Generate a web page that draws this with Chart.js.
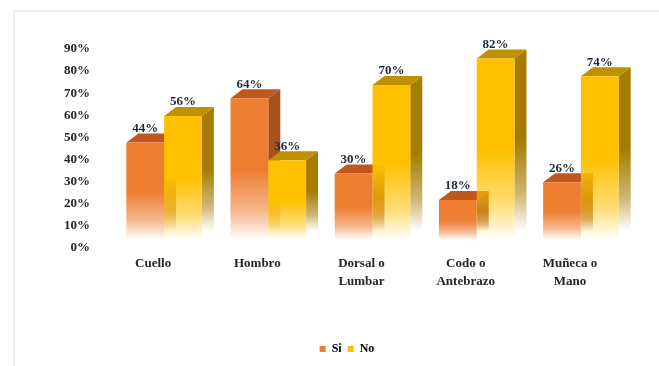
<!DOCTYPE html>
<html>
<head>
<meta charset="utf-8">
<style>
    html, body { margin: 0; padding: 0; background: #ffffff; }
    #wrap { position: relative; width: 659px; height: 366px; overflow: hidden; }
    #frame { position: absolute; left: 13px; top: 10px; width: 800px; height: 500px; border: 2px solid #eeeeee; box-sizing: border-box; }
    canvas { position: absolute; left: 0; top: 0; }
</style>
<script src="https://cdn.jsdelivr.net/npm/chart.js@4/dist/chart.umd.min.js"></script>
</head>
<body>
<div id="wrap">
    <div id="frame"></div>
    <canvas id="chart" width="659" height="366"></canvas>
</div>
<script>
const categories = ['Cuello', 'Hombro', ['Dorsal o', 'Lumbar'], ['Codo o', 'Antebrazo'], ['Muñeca o', 'Mano']];
const siValues = [44, 64, 30, 18, 26];
const noValues = [56, 36, 70, 82, 74];
const tickStep = 10;
const tickMax = 90;

const FONT = '"Liberation Serif", serif';
const DEPTH_X = 12;
const DEPTH_Y = 9;

// Colour sets for each series: front, top face, side face (as r,g,b)
const orange = { front: '237,125,49', top: '192,88,30', side: '165,82,31' };
const yellow = { front: '255,192,0', top: '191,144,0', side: '166,124,0' };

// Front and side faces fade out toward the floor of the chart
function fade(ctx, top, bottom, rgb) {
    const g = ctx.createLinearGradient(0, top, 0, bottom);
    g.addColorStop(0, `rgba(${rgb},1)`);
    g.addColorStop(0.5, `rgba(${rgb},1)`);
    g.addColorStop(0.8, `rgba(${rgb},0.55)`);
    g.addColorStop(1, `rgba(${rgb},0)`);
    return g;
}

function frontFill(rgb) {
    return function (c) {
        const scale = c.chart.scales.yBars;
        if (!scale || !c.parsed) return `rgb(${rgb})`;
        return fade(c.chart.ctx, scale.getPixelForValue(c.parsed.y), scale.getPixelForValue(0), rgb);
    };
}

function drawFaces(chart, meta, colors) {
    const ctx = chart.ctx;
    meta.data.forEach(function (bar) {
        const x0 = bar.x - bar.width / 2;
        const x1 = bar.x + bar.width / 2;
        ctx.save();
        ctx.fillStyle = fade(ctx, bar.y - DEPTH_Y, bar.base - DEPTH_Y, colors.side);
        ctx.beginPath();
        ctx.moveTo(x1, bar.y);
        ctx.lineTo(x1 + DEPTH_X, bar.y - DEPTH_Y);
        ctx.lineTo(x1 + DEPTH_X, bar.base - DEPTH_Y);
        ctx.lineTo(x1, bar.base);
        ctx.closePath();
        ctx.fill();
        ctx.fillStyle = `rgb(${colors.top})`;
        ctx.beginPath();
        ctx.moveTo(x0, bar.y);
        ctx.lineTo(x0 + DEPTH_X, bar.y - DEPTH_Y);
        ctx.lineTo(x1 + DEPTH_X, bar.y - DEPTH_Y);
        ctx.lineTo(x1, bar.y);
        ctx.closePath();
        ctx.fill();
        ctx.restore();
    });
}

// Extruded side and top faces. Chart.js paints the last dataset first, but
// No has to sit over Si here, so Si is painted ahead of No and then skipped.
const extrude = {
    id: 'extrude',
    beforeDatasetDraw(chart, args) {
        if (args.index === 0) return false;
        const si = chart.getDatasetMeta(0);
        drawFaces(chart, si, orange);
        si.controller.draw();
        drawFaces(chart, args.meta, yellow);
    }
};

// Percent labels above each bar
const valueLabels = {
    id: 'valueLabels',
    afterDatasetsDraw(chart) {
        const ctx = chart.ctx;
        ctx.save();
        ctx.font = 'bold 13px ' + FONT;
        ctx.fillStyle = '#1f2a38';
        ctx.textAlign = 'center';
        ctx.textBaseline = 'middle';
        chart.data.datasets.forEach(function (ds, i) {
            chart.getDatasetMeta(i).data.forEach(function (bar, j) {
                ctx.fillText(ds.data[j] + '%', bar.x, bar.y - 14);
            });
        });
        ctx.restore();
    }
};

new Chart(document.getElementById('chart'), {
    type: 'bar',
    data: {
        labels: categories,
        datasets: [
            { label: 'Si', data: siValues, faces: orange, backgroundColor: frontFill(orange.front), yAxisID: 'yBars', base: 0 },
            { label: 'No', data: noValues, faces: yellow, backgroundColor: frontFill(yellow.front), yAxisID: 'yBars', base: 0 }
        ]
    },
    options: {
        responsive: false,
        animation: false,
        layout: { padding: { left: 61, top: 49, right: 26, bottom: 1 } },
        datasets: { bar: { categoryPercentage: 0.725, barPercentage: 1 } },
        plugins: {
            tooltip: { enabled: false },
            legend: {
                position: 'bottom',
                labels: {
                    boxWidth: 6,
                    boxHeight: 6,
                    padding: 6,
                    color: '#262626',
                    font: { family: FONT, weight: 'bold', size: 12 },
                    generateLabels(chart) {
                        return chart.data.datasets.map(function (ds, i) {
                            return {
                                text: ds.label,
                                fillStyle: `rgb(${ds.faces.front})`,
                                strokeStyle: 'transparent',
                                lineWidth: 0,
                                datasetIndex: i
                            };
                        });
                    }
                }
            }
        },
        scales: {
            x: {
                grid: { display: false, drawTicks: false },
                border: { display: false },
                afterFit(scale) { scale.height = 89; },
                ticks: {
                    maxRotation: 0,
                    autoSkip: false,
                    labelOffset: -11,
                    padding: 7,
                    color: '#262626',
                    font: { family: FONT, weight: 'bold', size: 13, lineHeight: 1.38 }
                }
            },
            // Tick labels sit on the front of the floor
            y: {
                min: 0,
                max: tickMax,
                grid: { display: false, drawTicks: false },
                border: { display: false },
                afterFit(scale) { scale.width = 51; },
                ticks: {
                    stepSize: tickStep,
                    padding: 22,
                    color: '#262626',
                    font: { family: FONT, weight: 'bold', size: 13 },
                    callback: function (v) { return v + '%'; }
                }
            },
            // Same pixels per percent, but the bars stand a little further back
            yBars: {
                display: false,
                min: -3.7,
                max: tickMax - 3.7
            }
        }
    },
    plugins: [extrude, valueLabels]
});
</script>
</body>
</html>
